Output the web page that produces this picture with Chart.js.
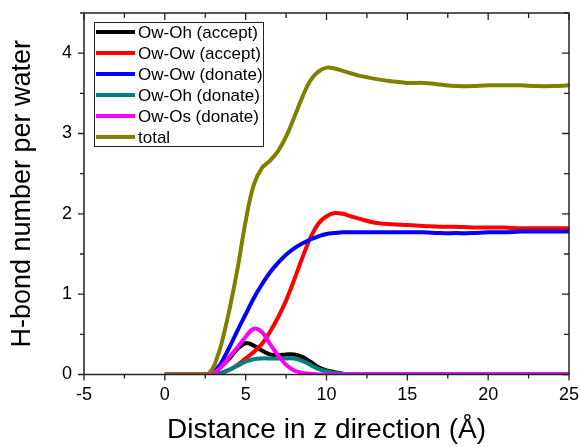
<!DOCTYPE html>
<html>
<head>
<meta charset="utf-8">
<script src="https://cdn.jsdelivr.net/npm/chart.js@4.4.0/dist/chart.umd.min.js"></script>
<style>
  html, body { margin: 0; padding: 0; background: #fff; }
  #wrap { width: 580px; height: 447px; }
</style>
</head>
<body>
<div id="wrap"><canvas id="grafico"></canvas></div>
<script>
// distance in z direction (Angstrom)
const Z = [0, 1, 2, 2.5, 2.75, 3, 3.25, 3.5, 4, 4.5, 5, 5.5, 6, 6.5, 7, 7.5, 8, 8.5, 9, 9.5, 10, 10.5, 11, 11.5, 12, 13, 14, 15, 16, 17, 18, 19, 20, 21, 22, 23, 24, 25];

const OH_ACCEPT = [0, 0, 0, 0, 0, 0.02, 0.05, 0.1, 0.2, 0.32, 0.39, 0.36, 0.3, 0.25, 0.24, 0.25, 0.25, 0.22, 0.16, 0.09, 0.05, 0.03, 0.01, 0, 0, 0, 0, 0, 0, 0, 0, 0, 0, 0, 0, 0, 0, 0];
const OW_ACCEPT = [0, 0, 0, 0, 0, 0, 0.01, 0.02, 0.06, 0.12, 0.2, 0.28, 0.38, 0.53, 0.71, 0.92, 1.18, 1.45, 1.7, 1.88, 1.97, 2.01, 2.0, 1.97, 1.94, 1.89, 1.87, 1.86, 1.85, 1.84, 1.84, 1.83, 1.83, 1.83, 1.82, 1.82, 1.82, 1.82];
const OW_DONATE = [0, 0, 0, 0, 0, 0.02, 0.08, 0.15, 0.34, 0.55, 0.75, 0.95, 1.12, 1.27, 1.39, 1.49, 1.57, 1.63, 1.68, 1.72, 1.75, 1.76, 1.77, 1.77, 1.77, 1.77, 1.77, 1.77, 1.77, 1.76, 1.76, 1.76, 1.77, 1.77, 1.78, 1.78, 1.78, 1.78];
const OH_DONATE = [0, 0, 0, 0, 0, 0, 0.01, 0.02, 0.06, 0.11, 0.16, 0.19, 0.2, 0.2, 0.2, 0.2, 0.2, 0.17, 0.12, 0.07, 0.04, 0.02, 0.01, 0, 0, 0, 0, 0, 0, 0, 0, 0, 0, 0, 0, 0, 0, 0];
const OS_DONATE = [0, 0, 0, 0, 0, 0.02, 0.05, 0.1, 0.22, 0.34, 0.47, 0.57, 0.53, 0.38, 0.24, 0.12, 0.05, 0.02, 0.01, 0, 0, 0, 0, 0, 0, 0, 0, 0, 0, 0, 0, 0, 0, 0, 0, 0, 0, 0];
const TOTAL = [0, 0, 0, 0, 0.02, 0.09, 0.22, 0.38, 0.81, 1.32, 1.91, 2.36, 2.57, 2.66, 2.78, 2.96, 3.2, 3.45, 3.66, 3.77, 3.82, 3.81, 3.78, 3.75, 3.72, 3.68, 3.65, 3.63, 3.63, 3.61, 3.59, 3.59, 3.6, 3.6, 3.6, 3.59, 3.59, 3.6];

const X_TICKS = [-5, 0, 5, 10, 15, 20, 25];
const Y_TICKS = [0, 1, 2, 3, 4];

const FONT = "'Liberation Sans', Arial, sans-serif";

function punti(arr) {
  return Z.map((z, i) => ({ x: z, y: arr[i] }));
}

function serie(label, arr, colore, ordine) {
  return {
    label: label,
    data: punti(arr),
    borderColor: colore,
    backgroundColor: colore,
    borderWidth: 4,
    pointRadius: 0,
    tension: 0.4,
    order: ordine
  };
}

// frame + tick marks (bottom/left outward, top/right inward, with minor ticks)
const cornice = {
  id: 'cornice',
  afterDatasetsDraw(chart) {
    const { ctx, chartArea: a, scales } = chart;
    const sx = scales.x, sy = scales.y;
    ctx.save();
    ctx.strokeStyle = '#222';
    ctx.lineWidth = 1.5;
    ctx.strokeRect(a.left, a.top, a.right - a.left, a.bottom - a.top);
    ctx.lineWidth = 1.3;
    ctx.beginPath();
    for (let v = sx.min; v <= sx.max + 1e-9; v += 2.5) {
      const p = sx.getPixelForValue(v);
      const major = X_TICKS.includes(v);
      const l = major ? 6 : 4;
      ctx.moveTo(p, a.bottom); ctx.lineTo(p, a.bottom + l);
      ctx.moveTo(p, a.top); ctx.lineTo(p, a.top + l + 1);
    }
    for (let v = sy.min; v <= sy.max + 1e-9; v += 0.5) {
      const p = sy.getPixelForValue(v);
      const major = Y_TICKS.includes(v);
      const l = major ? 6 : 4;
      ctx.moveTo(a.left, p); ctx.lineTo(a.left - l, p);
      ctx.moveTo(a.right, p); ctx.lineTo(a.right - l - 1, p);
    }
    ctx.stroke();
    ctx.restore();
  }
};

// boxed legend inside the plot, top left
const legenda = {
  id: 'legenda',
  afterDraw(chart) {
    const ctx = chart.ctx;
    const x0 = 94, y0 = 22, w = 169, h = 124, riga = 21;
    ctx.save();
    ctx.fillStyle = '#fff';
    ctx.fillRect(x0, y0, w, h);
    ctx.strokeStyle = '#222';
    ctx.lineWidth = 1;
    ctx.strokeRect(x0 + 0.5, y0 + 0.5, w, h);
    ctx.font = '17px ' + FONT;
    ctx.textBaseline = 'middle';
    chart.data.datasets.forEach((d, i) => {
      const y = y0 + 10 + i * riga;
      ctx.strokeStyle = d.borderColor;
      ctx.lineWidth = 4;
      ctx.beginPath();
      ctx.moveTo(x0 + 2, y);
      ctx.lineTo(x0 + 41, y);
      ctx.stroke();
      ctx.fillStyle = '#000';
      ctx.fillText(d.label, x0 + 44, y + 1);
    });
    ctx.restore();
  }
};

new Chart(document.getElementById('grafico'), {
  type: 'line',
  data: {
    datasets: [
      serie('Ow-Oh (accept)', OH_ACCEPT, '#000000', 5),
      serie('Ow-Ow (accept)', OW_ACCEPT, '#ff0000', 4),
      serie('Ow-Ow (donate)', OW_DONATE, '#0000ff', 3),
      serie('Ow-Oh (donate)', OH_DONATE, '#008080', 2),
      serie('Ow-Os (donate)', OS_DONATE, '#ff00ff', 1),
      serie('total', TOTAL, '#808000', 0)
    ]
  },
  plugins: [cornice, legenda],
  options: {
    responsive: true,
    maintainAspectRatio: false,
    animation: false,
    layout: { padding: { left: 0, right: 11, top: 13, bottom: 0 } },
    plugins: {
      legend: { display: false },
      tooltip: { enabled: false }
    },
    scales: {
      x: {
        type: 'linear',
        min: -5,
        max: 25,
        afterBuildTicks: s => { s.ticks = X_TICKS.map(v => ({ value: v })); },
        afterFit: s => { s.height = 72.5; s.paddingLeft = 0; s.paddingRight = 0; },
        grid: { display: false, drawTicks: false },
        border: { display: false },
        ticks: { color: '#000', padding: 10, font: { family: FONT, size: 18 } },
        title: {
          display: true,
          text: 'Distance in z direction (Å)',
          color: '#000',
          padding: { top: 0, bottom: 0 },
          font: { family: FONT, size: 28 }
        }
      },
      y: {
        min: 0,
        max: 4.5,
        afterBuildTicks: s => { s.ticks = Y_TICKS.map(v => ({ value: v })); },
        afterFit: s => { s.width = 84; s.paddingTop = 0; s.paddingBottom = 0; },
        grid: { display: false, drawTicks: false },
        border: { display: false },
        ticks: { color: '#000', padding: 12, font: { family: FONT, size: 18 } },
        title: {
          display: true,
          text: 'H-bond number per water',
          color: '#000',
          padding: { top: 6, bottom: 0 },
          font: { family: FONT, size: 27 }
        }
      }
    }
  }
});
</script>
</body>
</html>
